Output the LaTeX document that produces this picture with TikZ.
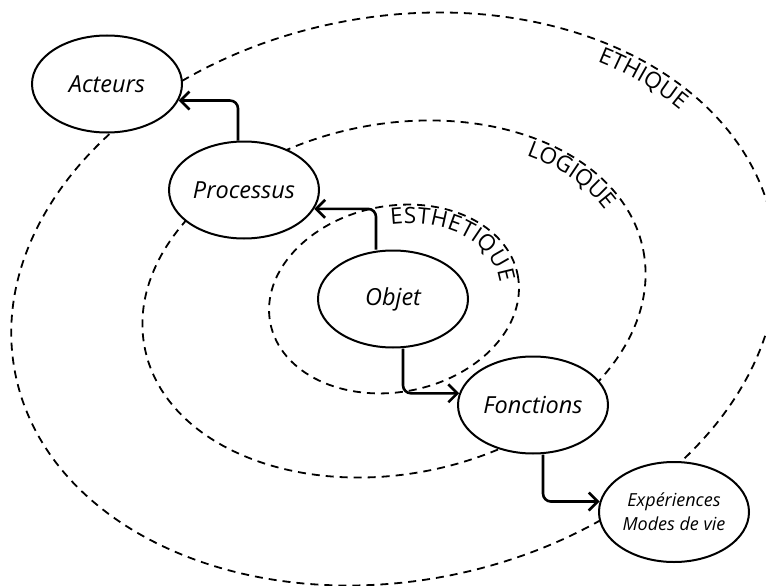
\documentclass[tikz,border=0pt]{standalone}
\usepackage{fontspec}
\setmainfont{Open Sans}
\usetikzlibrary{shapes.geometric,arrows.meta,decorations.text}
\newcommand{\lab}{\fontsize{22.5}{26}\selectfont}
\begin{document}
\begin{tikzpicture}[x=1pt,y=-1pt,
    bulle/.style={ellipse,draw,line width=2pt,fill=white,inner sep=0pt,
      minimum width=150pt,minimum height=97pt,font=\itshape\fontsize{23.5}{27}\selectfont},
    orbite/.style={line width=1.8pt,dash pattern=on 8pt off 6pt},
    fleche/.style={line width=2.6pt,rounded corners=8pt,-{Straight Barb[length=9pt,width=18pt]}}]
  \useasboundingbox (0,0) rectangle (766,586);

  \begin{scope}[shift={(394,299)},rotate=11]
    \draw[orbite] (0,0) ellipse [x radius=386,y radius=282];
    \draw[orbite] (0,0) ellipse [x radius=254,y radius=175];
    \draw[orbite] (0,0) ellipse [x radius=126,y radius=93];
    \path[decorate,decoration={text along path,text align={fit to path},text={|\lab|ETHIQUE}}]
      (-48:366 and 262) arc[start angle=-48,end angle=-30,x radius=366,y radius=262];
    \path[decorate,decoration={text along path,text align={fit to path},text={|\lab|LOGIQUE}}]
      (-48:235 and 156) arc[start angle=-48,end angle=-18,x radius=235,y radius=156];
    \path[decorate,decoration={text along path,text align={fit to path},text={|\lab|ESTHETIQUE}}]
      (-84:107 and 74) arc[start angle=-84,end angle=3,x radius=107,y radius=74];
  \end{scope}

  \node[bulle] (act) at (107,84) {Acteurs};
  \node[bulle] (proc) at (244,190) {Processus};
  \node[bulle] (obj) at (393,299) {Objet};
  \node[bulle] (fonc) at (533,405) {Fonctions};
  \node[bulle,align=center,minimum height=100pt,font=\itshape\fontsize{18}{24}\selectfont] (exp) at (674,512) {Expériences\\Modes de vie};

  \draw[fleche] ([xshift=-6pt]proc.north) |- (act.-13);
  \draw[fleche] ([xshift=-17pt]obj.north) |- (proc.-15);
  \draw[fleche] ([xshift=10pt]obj.south) |- (fonc.171);
  \draw[fleche] ([xshift=10pt]fonc.south) |- (exp.172);
\end{tikzpicture}
\end{document}
